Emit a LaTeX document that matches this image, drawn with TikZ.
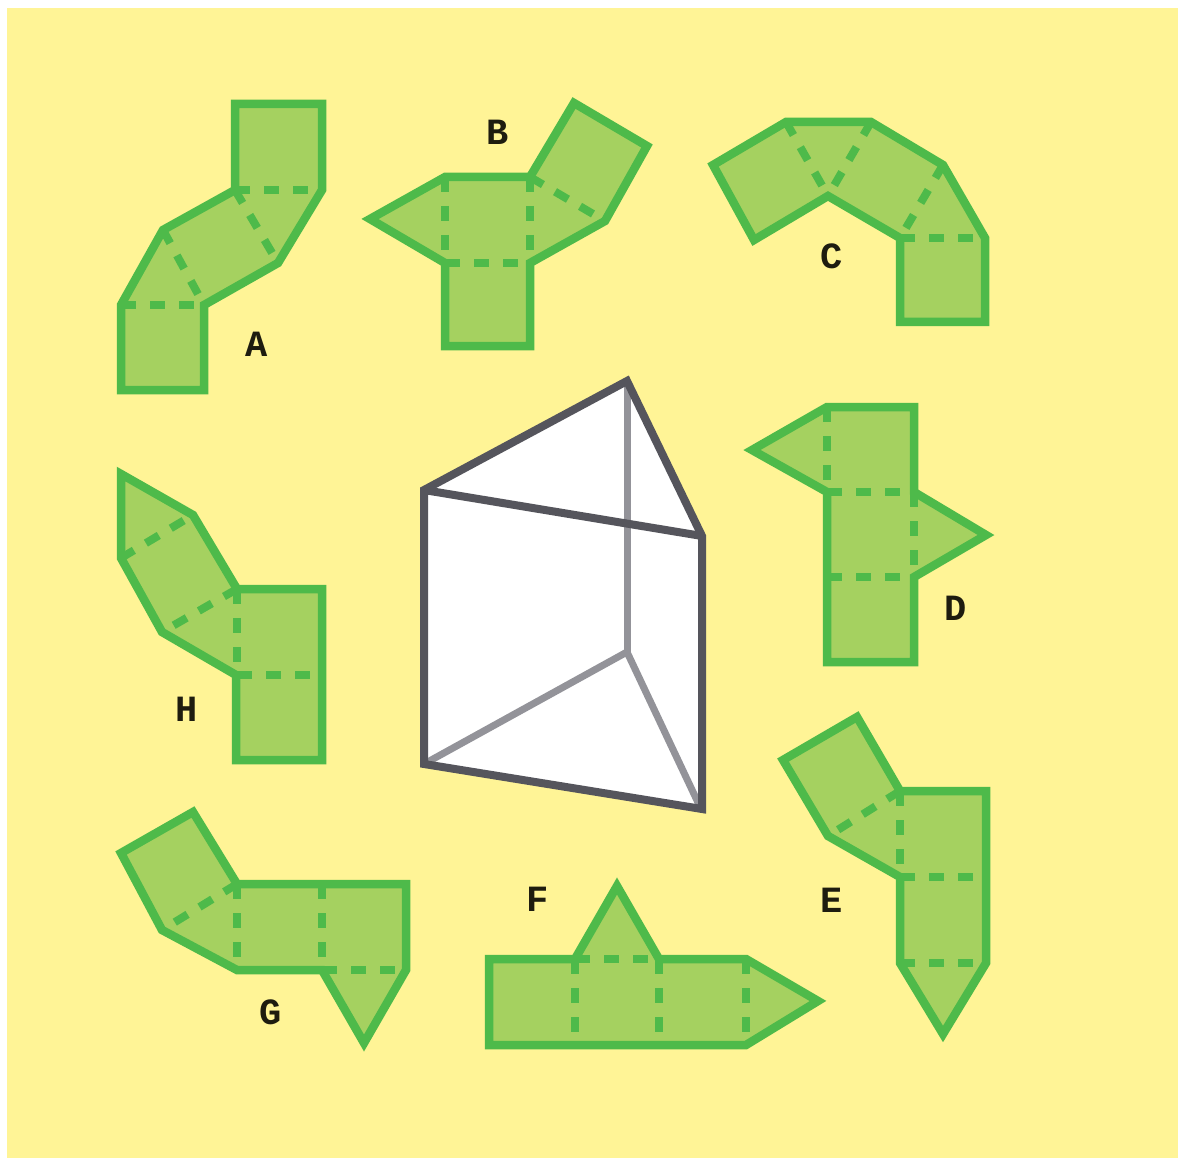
\documentclass[tikz,border=0pt]{standalone}
\usepackage{fontspec}
\setmonofont{Liberation Mono}
\definecolor{paperYellow}{RGB}{255,244,150}
\definecolor{netFill}{RGB}{165,209,96}
\definecolor{netLine}{RGB}{78,186,74}
\definecolor{prismDark}{RGB}{85,85,92}
\definecolor{prismGray}{RGB}{147,147,153}
\definecolor{tagInk}{RGB}{30,28,15}

\begin{document}
\begin{tikzpicture}[
    x=1pt,y=-1pt,
    net/.style={draw=netLine,fill=netFill,line width=8.5pt,miter limit=10},
    fold/.style={draw=netLine,line width=8pt,dash pattern=on 15pt off 14pt},
    tag/.style={font=\ttfamily\bfseries\fontsize{37}{37}\selectfont,text=tagInk,inner sep=0pt},
    hidden/.style={draw=prismGray,line width=7pt},
    edge/.style={draw=prismDark,line width=8pt,line join=miter}
  ]
  \useasboundingbox (0,0) rectangle (1178,1158);
  \fill[white] (0,0) rectangle (1178,1158);
  \fill[paperYellow] (7,8) rectangle (1178,1158);

  % net A
  \draw[net] (235,104) -- (322,104) -- (322,190) -- (278,263) -- (204,305) -- (204,390) -- (121,390) -- (121,305) -- (163,230) -- (235,190) -- cycle;
  \draw[fold] (235,190) -- (322,190);
  \draw[fold] (235,190) -- (278,263);
  \draw[fold] (163,230) -- (204,305);
  \draw[fold] (121,305) -- (204,305);
  \node[tag] (labelA) at (257,344) {A};

  % net B
  \draw[net] (370,219) -- (445,177) -- (530,177) -- (574,103) -- (647,146) -- (605,221) -- (530,263) -- (530,346) -- (445,346) -- (445,263) -- cycle;
  \draw[fold] (445,177) -- (445,263);
  \draw[fold] (445,263) -- (530,263);
  \draw[fold] (530,177) -- (530,263);
  \draw[fold] (530,177) -- (605,221);
  \node[tag] (labelB) at (498,132) {B};

  % net C
  \draw[net] (713,165) -- (786,122) -- (871,122) -- (943,165) -- (985,238) -- (985,322) -- (900,322) -- (900,238) -- (828,196) -- (754,240) -- cycle;
  \draw[fold] (786,122) -- (828,196);
  \draw[fold] (871,122) -- (828,196);
  \draw[fold] (943,165) -- (900,238);
  \draw[fold] (900,238) -- (985,238);
  \node[tag] (labelC) at (832,256) {C};

  % net D
  \draw[net] (752,450) -- (827,407) -- (914,407) -- (914,492) -- (986,535) -- (914,577) -- (914,662) -- (827,662) -- (827,492) -- cycle;
  \draw[fold] (827,407) -- (827,492);
  \draw[fold] (827,492) -- (914,492);
  \draw[fold] (914,492) -- (914,577);
  \draw[fold] (827,577) -- (914,577);
  \node[tag] (labelD) at (956,608) {D};

  % net E
  \draw[net] (783,760) -- (857,717) -- (900,791) -- (986,791) -- (986,963) -- (943,1034) -- (900,963) -- (900,877) -- (828,836) -- cycle;
  \draw[fold] (900,791) -- (828,836);
  \draw[fold] (900,791) -- (900,877);
  \draw[fold] (900,877) -- (986,877);
  \draw[fold] (900,963) -- (986,963);
  \node[tag] (labelE) at (832,900) {E};

  % net F
  \draw[net] (489,959) -- (575,959) -- (617,886) -- (659,959) -- (746,959) -- (818,1001) -- (746,1045) -- (489,1045) -- cycle;
  \draw[fold] (575,959) -- (575,1045);
  \draw[fold] (575,959) -- (659,959);
  \draw[fold] (659,959) -- (659,1045);
  \draw[fold] (746,959) -- (746,1045);
  \node[tag] (labelF) at (538,899) {F};

  % net G
  \draw[net] (121,853) -- (193,812) -- (237,884) -- (406,884) -- (406,970) -- (364,1043) -- (322,970) -- (237,970) -- (162,930) -- cycle;
  \draw[fold] (237,884) -- (162,930);
  \draw[fold] (237,884) -- (237,970);
  \draw[fold] (322,884) -- (322,970);
  \draw[fold] (322,970) -- (406,970);
  \node[tag] (labelG) at (271,1012) {G};

  % net H
  \draw[net] (121,474) -- (193,515) -- (237,589) -- (322,589) -- (322,760) -- (236,760) -- (236,675) -- (162,632) -- (121,558) -- cycle;
  \draw[fold] (121,558) -- (193,515);
  \draw[fold] (237,589) -- (162,632);
  \draw[fold] (237,589) -- (237,675);
  \draw[fold] (237,675) -- (322,675);
  \node[tag] (labelH) at (187,709) {H};

  % prism
  \fill[white] (424,490) -- (627,381) -- (702,536) -- (702,811) -- (424,764) -- cycle;
  \draw[hidden] (627,381) -- (627,652);
  \draw[hidden] (424,764) -- (627,652) -- (702,811);
  \draw[edge] (424,764) -- (424,490) -- (627,381) -- (702,536) -- (702,809) -- cycle;
  \draw[edge] (424,490) -- (702,536);
\end{tikzpicture}
\end{document}
